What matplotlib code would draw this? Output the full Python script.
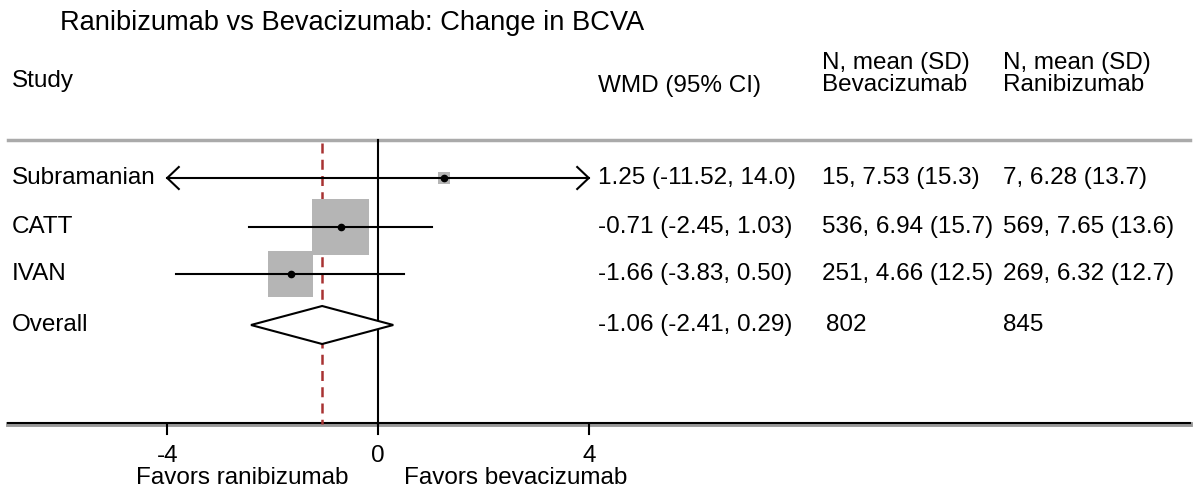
import matplotlib.pyplot as plt
from matplotlib.patches import Polygon, Rectangle
import numpy as np

plt.rcParams['font.family'] = ['Liberation Sans', 'DejaVu Sans']

# data
studies = ["Subramanian", "CATT", "IVAN"]
wmd = [1.25, -0.71, -1.66]
ci_low = [-11.52, -2.45, -3.83]
ci_high = [14.0, 1.03, 0.50]
wmd_text = ["1.25 (-11.52, 14.0)", "-0.71 (-2.45, 1.03)", "-1.66 (-3.83, 0.50)"]
beva_text = ["15, 7.53 (15.3)", "536, 6.94 (15.7)", "251, 4.66 (12.5)"]
rani_text = ["7, 6.28 (13.7)", "569, 7.65 (13.6)", "269, 6.32 (12.7)"]
overall = -1.06
overall_low = -2.41
overall_high = 0.29
overall_text = "-1.06 (-2.41, 0.29)"
overall_beva = "802"
overall_rani = "845"
ticks = [-4, 0, 4]

W, H = 1197, 490
x0_px = 378      # pixel of 0
unit_px = 52.7   # pixels per unit
clip = 4.0

fig = plt.figure(figsize=(W / 100, H / 100), dpi=100)
ax = fig.add_axes([0, 0, 1, 1])
ax.set_xlim(-x0_px / unit_px, (W - x0_px) / unit_px)
ax.set_ylim(H, 0)
ax.axis("off")

def px(x):
    return (x - x0_px) / unit_px

row_y = [178, 227, 274]
over_y = 325
fs = 17.5

def ftext(x, y, s, size=fs, **kw):
    fig.text(x / W, 1 - y / H, s, fontsize=size, va="center", **kw)

# title and headers
ftext(60, 23, "Ranibizumab vs Bevacizumab: Change in BCVA", size=19.6)
ftext(12, 81, "Study")
ftext(598, 86, "WMD (95% CI)")
ftext(822, 63, "N, mean (SD)")
ftext(822, 85, "Bevacizumab")
ftext(1003, 63, "N, mean (SD)")
ftext(1003, 85, "Ranibizumab")

# header rule and bottom axis
ax.plot([px(8), px(1190)], [140, 140], color="#aaaaaa", lw=2.5)
ax.plot([px(8), px(1190)], [424, 424], color="#999999", lw=3.5)
ax.plot([px(8), px(1190)], [423, 423], color="black", lw=1.5)

# reference lines
ax.plot([0, 0], [140, 424], color="black", lw=1.5)
ax.plot([overall, overall], [143, 424], color="#a83232", lw=1.8, ls=(0, (4, 2.5)))

# weights for box size (inverse variance), with a minimum box
se = (np.array(ci_high) - np.array(ci_low)) / 3.92
w = 1 / se ** 2
side = np.maximum(1.08 * np.sqrt(w / w.max()), 0.22)   # box side in x units
side_px = side * unit_px

for i, name in enumerate(studies):
    y = row_y[i]
    ax.add_patch(Rectangle((wmd[i] - side[i] / 2, y - side_px[i] / 2), side[i], side_px[i],
                           facecolor="#b5b5b5", edgecolor="none", zorder=2))
    lo = max(ci_low[i], -clip)
    hi = min(ci_high[i], clip)
    ax.plot([lo, hi], [y, y], color="black", lw=1.5, zorder=3)
    if ci_low[i] < -clip:
        ax.plot([lo + 0.22, lo, lo + 0.22], [y - 11, y, y + 11], color="black", lw=1.5, zorder=3)
    if ci_high[i] > clip:
        ax.plot([hi - 0.22, hi, hi - 0.22], [y - 11, y, y + 11], color="black", lw=1.5, zorder=3)
    ax.plot(wmd[i], y, "o", color="black", ms=4.5, zorder=4)
    ftext(12, y, name)
    ftext(598, y, wmd_text[i])
    ftext(822, y, beva_text[i])
    ftext(1003, y, rani_text[i])

ax.add_patch(Polygon([[overall_low, over_y], [overall, over_y - 19], [overall_high, over_y],
                      [overall, over_y + 19]], closed=True, facecolor="white",
                     edgecolor="black", lw=1.5, zorder=3))
ftext(12, over_y, "Overall")
ftext(598, over_y, overall_text)
ftext(826, over_y, overall_beva)
ftext(1003, over_y, overall_rani)

# ticks
for t in ticks:
    ax.plot([t, t], [424, 434], color="black", lw=1.5)
    fig.text((x0_px + t * unit_px) / W, 1 - 456 / H, str(t), fontsize=fs, ha="center", va="center")
fig.text(242 / W, 1 - 478 / H, "Favors ranibizumab", fontsize=fs, ha="center", va="center")
fig.text(516 / W, 1 - 478 / H, "Favors bevacizumab", fontsize=fs, ha="center", va="center")

fig.savefig("out.png", dpi=100, facecolor="white")
